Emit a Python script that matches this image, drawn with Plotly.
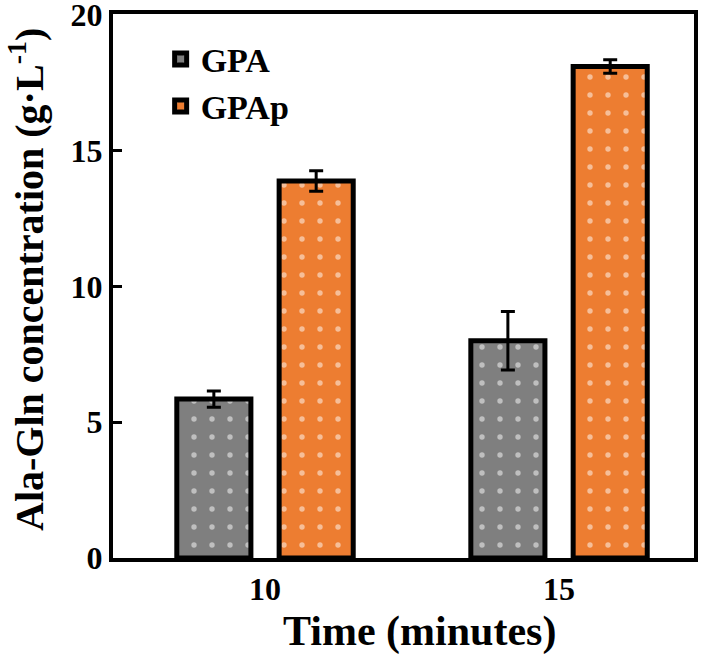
import plotly.graph_objects as go

categories = ["10", "15"]
gpa_values = [5.85, 8.0]
gpa_errors = [0.3, 1.08]
gpap_values = [13.88, 18.1]
gpap_errors = [0.38, 0.25]
series_names = ["GPA", "GPAp"]
y_ticks = [0, 5, 10, 15, 20]
x_title = "Time (minutes)"
y_title = "Ala-Gln concentration (g·L<sup>-1</sup>)"

FONT = "Liberation Serif"
# plot area target: x 113-694, y 14-558 (page body margin removed below)
W, H = 709, 662
L, R, T, B = 113, 15, 14, 104
PW, PH = W - L - R, H - T - B

fig = go.Figure()
for name, vals, errs, col, off in [
    (series_names[0], gpa_values, gpa_errors, "#7f7f7f", -0.3),
    (series_names[1], gpap_values, gpap_errors, "#ed7d31", 0.048),
]:
    fig.add_trace(go.Bar(
        name=f"<b>{name}</b>", x=categories, y=vals,
        width=0.252, offset=off,
        marker=dict(color=col, line=dict(color="black", width=5),
                    pattern=dict(shape=".", size=18, solidity=0.07,
                                 fgcolor="white", bgcolor=col, fillmode="overlay")),
        error_y=dict(type="data", array=errs, visible=True, color="black",
                     thickness=3, width=7),
    ))

fig.update_layout(
    width=W, height=H,
    margin=dict(l=L, r=R, t=T, b=B, autoexpand=False),
    paper_bgcolor="white", plot_bgcolor="white",
    barmode="overlay",
    font=dict(family=FONT, size=32, color="black"),
    showlegend=True,
    legend=dict(x=0.082, y=0.97, xanchor="left", yanchor="top",
                bgcolor="rgba(0,0,0,0)", font=dict(family=FONT, size=34, color="black"),
                tracegroupgap=0, itemwidth=30),
    xaxis=dict(type="category", range=[-0.517, 1.459],
               tickvals=categories, ticktext=[f"<b>{c}</b>" for c in categories],
               showline=True, linecolor="black", linewidth=4, mirror=True,
               ticks="", showgrid=False, automargin=False,
               tickfont=dict(family=FONT, size=32, color="black")),
    yaxis=dict(range=[0, 20.03], tickvals=y_ticks, ticktext=[f"<b>{t}</b>" for t in y_ticks],
               showline=True, linecolor="black", linewidth=4, mirror=True,
               ticks="inside", ticklen=9, tickwidth=3, tickcolor="black", showgrid=False,
               zeroline=False, automargin=False, ticklabeloverflow="allow",
               tickfont=dict(family=FONT, size=32, color="black")),
    annotations=[
        dict(text=f"<b>{x_title}</b>", xref="paper", yref="paper",
             x=(419 - L) / PW, y=(H - B - 631) / PH, xanchor="center", yanchor="middle",
             showarrow=False, font=dict(family=FONT, size=42, color="black")),
        dict(text=f"<b>{y_title}</b>", xref="paper", yref="paper", textangle=-90,
             x=(26 - L) / PW, y=(H - B - 280) / PH, xanchor="center", yanchor="middle",
             showarrow=False, font=dict(family=FONT, size=40, color="black")),
    ],
)

fig.write_html("out.html", config={"displayModeBar": False},
               post_script="document.body.style.margin='0';")
